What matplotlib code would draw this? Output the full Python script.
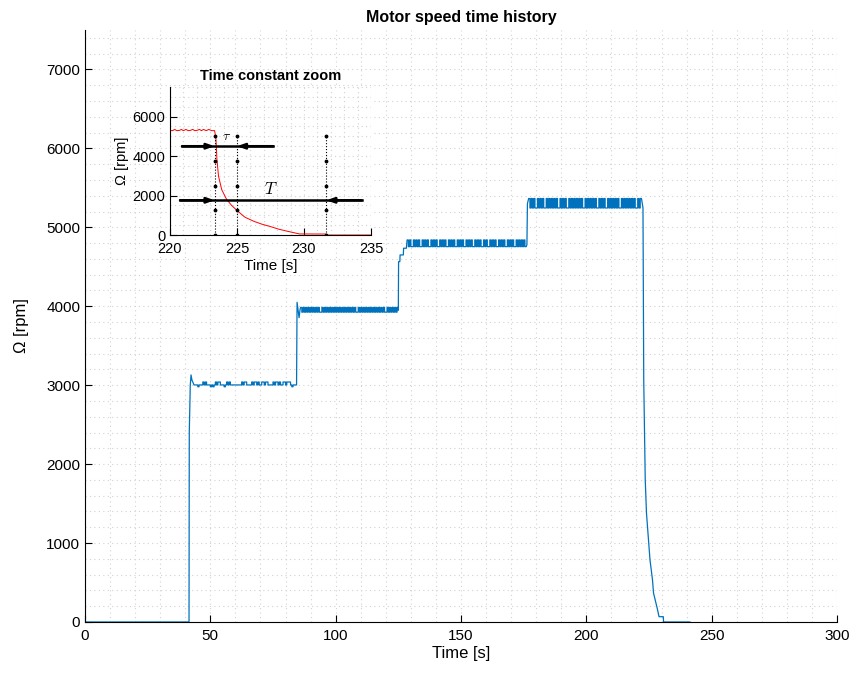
import matplotlib
matplotlib.use("Agg")
import matplotlib.pyplot as plt
from matplotlib.ticker import MultipleLocator

plt.rcParams["font.family"] = ["Liberation Sans", "DejaVu Sans"]
plt.rcParams["mathtext.fontset"] = "cm"

BLUE = "#0072BD"
GRID = "#d2d2d2"

# ---- main record: transients as (time s, rpm) breakpoints ----
start_t = [0.0, 41.5, 41.6, 42.0, 42.3, 42.7, 43.0]
start_v = [0, 0, 2400, 3000, 3130, 3060, 3040]

# plateau 1: '0' base, '+' upper blip, '-' lower blip, one char per 0.5 s
p1_t0 = 43.5
p1_levels = {"0": 3003, "+": 3040, "-": 2980}
p1_code = ("000-000+0+" "000-0-0+0+" "+000-0+0+0" "00000000+0" "++0000+0++"
           "0+00++0++0" "000+0++0+0" "0++0+++0-0" "0")

step2_t = [84.4, 84.6, 85.4, 85.8]
step2_v = [3003, 4050, 3855, 3960]

# plateaus 2-4: 'h' / 'l' quantisation levels, one char per 0.5 s
p2_t0 = 86.0
p2_levels = {"h": 3985, "l": 3925}
p2_code = ("hlhlhlhlhl" "hlhlhllhlh" "lhlhlhlhlh" "lhlhlhlhlh" "lhlhllhlhl"
           "hlhlhlhlhl" "hlhlhlhllh" "lhlhlhlh")

step3_t = [125.0, 125.1, 125.6, 125.7, 127.0, 127.1, 128.2]
step3_v = [3950, 4565, 4565, 4650, 4650, 4735, 4735]

p3_t0 = 128.5
p3_levels = {"h": 4840, "l": 4755}
p3_code = ("hlhllhlhlh" "llhlhlhllh" "lhlhllhlhl" "hllhlhlhll" "hlhlhllhlh"
           "lhllhlhlhl" "lhlhllhlhl" "hllhlhlhll" "hlhlhllhlh" "lhlhl")

step4_t = [176.3, 176.5]
step4_v = [4780, 5300]

p4_t0 = 177.0
p4_levels = {"h": 5365, "l": 5245}
p4_code = ("hlhlhllhlh" "lhllhlhlhl" "hlhllhlhlh" "llhlhlhlhl" "hlhllhlhlh"
           "lhlhllhlhl" "hllhlhlhlh" "lhllhlhlhl" "hlhlhllhlh")

decay_t = [222.6, 222.9, 223.5, 224.0, 225.0, 225.4, 226.4, 226.8,
           228.3, 229.0, 230.7, 230.8, 241.3]
decay_v = [5245, 3066, 1800, 1377, 954, 785, 532, 367,
           170, 67, 67, 0, 0]

# ---- zoomed (filtered) record around the shut-down ----
zoom_t = [220.0, 220.2, 220.35, 220.5, 220.7, 220.85, 221.0, 221.2, 221.35,
          221.5, 221.7, 221.85, 222.0, 222.2, 222.35, 222.5, 222.7, 222.9,
          223.1, 223.33, 223.43, 223.5, 223.62, 223.86, 224.23, 224.6, 225.07,
          225.6, 226.28, 226.9, 227.49, 228.1, 228.7, 229.3, 229.66, 231.67,
          231.75, 235.0]
zoom_v = [5290, 5290, 5350, 5290, 5300, 5350, 5290, 5350, 5290,
          5300, 5350, 5290, 5300, 5350, 5290, 5350, 5290, 5350,
          5290, 5290, 4870, 3850, 2990, 2300, 1800, 1500, 1200,
          900, 690, 540, 430, 300, 200, 110, 55, 50,
          0, 0]

t_shut = 223.33   # start of decay
tau = 1.667       # time constant
T_set = 5 * tau   # settling time
mark_v = [0, 1250, 2500, 3750, 5000]
tau_arrow_v = 4500
T_arrow_v = 1760


def plateau(t0, levels, code):
    # each sample is held for 0.5 s (zero-order hold of the logged signal)
    t, v = [], []
    for i, c in enumerate(code):
        t += [t0 + 0.5 * i, t0 + 0.5 * (i + 1)]
        v += [levels[c], levels[c]]
    return t, v


p1 = plateau(p1_t0, p1_levels, p1_code)
p2 = plateau(p2_t0, p2_levels, p2_code)
p3 = plateau(p3_t0, p3_levels, p3_code)
p4 = plateau(p4_t0, p4_levels, p4_code)

t_all = (start_t + p1[0] + step2_t + p2[0] + step3_t + p3[0]
         + step4_t + p4[0] + decay_t)
v_all = (start_v + p1[1] + step2_v + p2[1] + step3_v + p3[1]
         + step4_v + p4[1] + decay_v)


def style_axes(ax, xmin, ymin, size):
    ax.spines["top"].set_visible(False)
    ax.spines["right"].set_visible(False)
    ax.tick_params(which="major", direction="in", length=5, width=0.8,
                   labelsize=size)
    ax.tick_params(axis="x", which="major", pad=5)
    ax.tick_params(which="minor", length=0)
    ax.xaxis.set_minor_locator(MultipleLocator(xmin))
    ax.yaxis.set_minor_locator(MultipleLocator(ymin))
    ax.grid(True, which="both", linestyle=(0, (1, 3)), color=GRID,
            linewidth=0.8)
    ax.set_axisbelow(True)


fig = plt.figure(figsize=(8.62, 6.74), dpi=100)
ax = fig.add_axes([0.0986, 0.0772, 0.8724, 0.8783])
ax.plot(t_all, v_all, color=BLUE, linewidth=0.9)
ax.set_xlim(0, 300)
ax.set_ylim(0, 7500)
ax.xaxis.set_major_locator(MultipleLocator(50))
ax.yaxis.set_major_locator(MultipleLocator(1000))
style_axes(ax, 10, 200, 11)
ax.set_xlabel("Time [s]", fontsize=12, labelpad=2)
ax.set_ylabel("Ω [rpm]", fontsize=12, labelpad=12)
ax.set_title("Motor speed time history", fontsize=11.5, fontweight="bold",
             pad=6)

axi = fig.add_axes([0.1972, 0.6513, 0.2332, 0.2196])
axi.set_facecolor("white")
axi.plot(zoom_t, zoom_v, color="red", linewidth=0.7)
for xv in [t_shut, t_shut + tau, t_shut + T_set]:
    axi.plot([xv] * len(mark_v), mark_v, linestyle=":", marker=".",
             color="k", linewidth=0.8, markersize=3.5)

head = "-|>,head_length=0.45,head_width=0.16"
axi.plot([220.9, 227.7], [tau_arrow_v] * 2, color="k", linewidth=1.8)
axi.annotate("", xy=(t_shut, tau_arrow_v), xytext=(220.9, tau_arrow_v),
             arrowprops=dict(arrowstyle=head, color="k", lw=1.8,
                             shrinkA=0, shrinkB=0))
axi.annotate("", xy=(t_shut + tau, tau_arrow_v), xytext=(227.7, tau_arrow_v),
             arrowprops=dict(arrowstyle=head, color="k", lw=1.8,
                             shrinkA=0, shrinkB=0))
axi.plot([220.75, 234.3], [T_arrow_v] * 2, color="k", linewidth=1.8)
axi.annotate("", xy=(t_shut, T_arrow_v), xytext=(220.75, T_arrow_v),
             arrowprops=dict(arrowstyle=head, color="k", lw=1.8,
                             shrinkA=0, shrinkB=0))
axi.annotate("", xy=(t_shut + T_set, T_arrow_v), xytext=(234.3, T_arrow_v),
             arrowprops=dict(arrowstyle=head, color="k", lw=1.8,
                             shrinkA=0, shrinkB=0))
axi.text(224.2, 5000, r"$\tau$", fontsize=10, ha="center", va="center")
axi.text(227.5, 2350, r"$T$", fontsize=12, ha="center", va="center")

axi.set_xlim(220, 235)
axi.set_ylim(0, 7500)
axi.xaxis.set_major_locator(MultipleLocator(5))
axi.yaxis.set_major_locator(MultipleLocator(2000))
style_axes(axi, 1, 500, 10.5)
axi.set_xlabel("Time [s]", fontsize=11, labelpad=2)
axi.set_ylabel("Ω [rpm]", fontsize=10.5, labelpad=2)
axi.set_title("Time constant zoom", fontsize=10.5, fontweight="bold", pad=5)

fig.savefig("out.png", dpi=100, facecolor="white")
